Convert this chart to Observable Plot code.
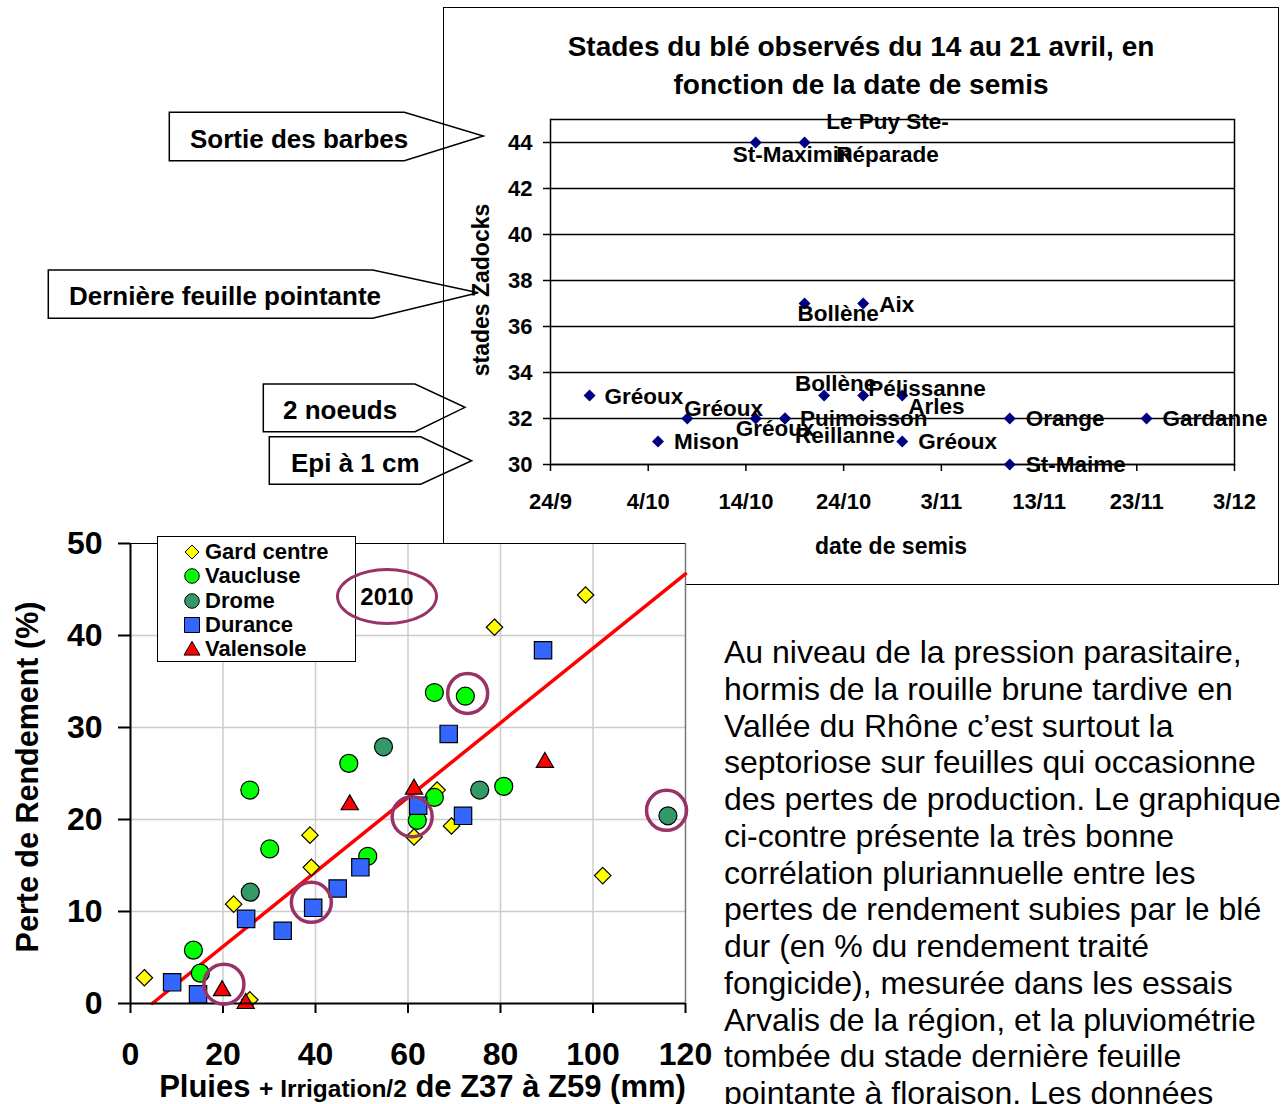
<!DOCTYPE html>
<html>
<head>
<meta charset="utf-8">
<script src="https://cdn.jsdelivr.net/npm/d3@7"></script>
<script src="https://cdn.jsdelivr.net/npm/@observablehq/plot@0.6"></script>
<style>
  html, body { margin:0; padding:0; width:1285px; height:1104px; overflow:hidden; background:#fff;
    font-family: Arial, "Liberation Sans", sans-serif; color:#000; }
  .abs { position:absolute; }
  #box { left:443px; top:7px; width:836px; height:578px; border:1.5px solid #000; box-sizing:border-box; }
  #title { left:443px; top:28px; width:836px; text-align:center; font-weight:bold; font-size:28px; line-height:38px; }
  .rot { white-space:nowrap; font-weight:bold; transform:translate(-50%,-50%) rotate(-90deg); }
  #para { left:724px; top:634px; font-size:32px; line-height:36.75px; white-space:nowrap; }
  #legend { left:157px; top:536px; width:199px; height:126px; border:1px solid #000; background:#fff; box-sizing:border-box; }
  .lrow { position:absolute; left:0; height:24px; font-weight:bold; font-size:22px; line-height:24px; white-space:nowrap; }
  .lrow svg { position:absolute; left:24px; top:2px; }
  .lrow span { position:absolute; left:47px; top:0; }
  #e2010 { left:336px; top:568px; width:102px; height:57px; border:3px solid #993366; border-radius:50%;
    box-sizing:border-box; text-align:center; font-weight:bold; font-size:24px; line-height:51px; }
</style>
</head>
<body>
<div id="box" class="abs"></div>
<div id="title" class="abs">Stades du blé observés du 14 au 21 avril, en<br>fonction de la date de semis</div>
<div id="top" class="abs" style="left:443px;top:7px"></div>
<div class="abs rot" style="left:481px;top:290px;font-size:23px;line-height:23px">stades Zadocks</div>
<div class="abs" style="left:691px;top:535px;width:400px;text-align:center;font-weight:bold;font-size:23px;line-height:23px">date de semis</div>

<svg class="abs" style="left:0;top:0" width="520" height="500" font-family="Arial, 'Liberation Sans', sans-serif" font-weight="bold" font-size="26">
  <polygon points="169.3,112.3 404.3,112.3 483.3,136 404.3,160.7 169.3,160.7" fill="none" stroke="#000" stroke-width="1.5"/>
  <text x="190" y="148">Sortie des barbes</text>
  <polygon points="48.3,270 372.7,270 478.3,292.7 372.7,318.3 48.3,318.3" fill="none" stroke="#000" stroke-width="1.5"/>
  <text x="69" y="305">Dernière feuille pointante</text>
  <polygon points="263.3,384 415,384 465,407.3 415,431.7 263.3,431.7" fill="none" stroke="#000" stroke-width="1.5"/>
  <text x="283" y="418.5">2 noeuds</text>
  <polygon points="269.3,436.7 420.7,436.7 471.7,460.7 420.7,484.3 269.3,484.3" fill="none" stroke="#000" stroke-width="1.5"/>
  <text x="291" y="471.5">Epi à 1 cm</text>
</svg>

<div id="scatter" class="abs" style="left:0;top:520px"></div>
<div class="abs rot" style="left:27px;top:777px;font-size:30.5px;line-height:30.5px">Perte de Rendement (%)</div>
<div class="abs" style="left:0;top:1070px;width:845px;text-align:center;font-weight:bold;font-size:31px;line-height:34px;white-space:nowrap">Pluies <span style="font-size:24.5px">+ Irrigation/2</span> de Z37 à Z59 (mm)</div>
<div id="legend" class="abs"></div>
<div id="e2010" class="abs">2010</div>

<div id="para" class="abs">Au niveau de la pression parasitaire,<br>hormis de la rouille brune tardive en<br>Vallée du Rhône c’est surtout la<br>septoriose sur feuilles qui occasionne<br>des pertes de production. Le graphique<br>ci-contre présente la très bonne<br>corrélation pluriannuelle entre les<br>pertes de rendement subies par le blé<br>dur (en % du rendement traité<br>fongicide), mesurée dans les essais<br>Arvalis de la région, et la pluviométrie<br>tombée du stade dernière feuille<br>pointante à floraison. Les données</div>

<script>
// ---------------- Top chart data ----------------
const sowingDates = ["2009-09-28","2009-10-05","2009-10-08","2009-10-15","2009-10-15","2009-10-18","2009-10-18",
  "2009-10-20","2009-10-20","2009-10-22","2009-10-26","2009-10-26","2009-10-30","2009-10-30","2009-11-10","2009-11-10","2009-11-24"];
const stages = [33,31,32,44,32,32,32,44,37,33,37,33,33,31,32,30,32];
const sites = ["Gréoux","Mison","Gréoux","St-Maximin","Gréoux","Puimoisson","Reillanne","Le Puy Ste-\nRéparade",
  "Bollène","Bollène","Aix","Pélissanne","Arles","Gréoux","Orange","St-Maime","Gardanne"];
const dateTicks = ["2009-09-24","2009-10-04","2009-10-14","2009-10-24","2009-11-03","2009-11-13","2009-11-23","2009-12-03"];
const stageTicks = [30,32,34,36,38,40,42,44];

// ---------------- Scatter data ----------------
const seriesNames = ["Gard centre","Vaucluse","Drome","Durance","Valensole"];
const gardX = [3.0,22.3,25.8,38.8,39.1,61.3,66.3,69.4,78.7,98.4,102.1];
const gardY = [2.8,10.8,0.4,18.3,14.8,18.1,23.2,19.3,40.9,44.4,13.9];
const vaucluseX = [13.6,15.1,25.8,30.1,47.2,51.3,62.0,65.7,65.7,72.4,80.7];
const vaucluseY = [5.8,3.3,23.2,16.8,26.1,16.0,19.9,22.4,33.8,33.4,23.6];
const dromeX = [25.9,54.7,75.5,116.2];
const dromeY = [12.1,27.9,23.2,20.4];
const duranceX = [9.0,14.6,25.0,32.9,39.5,44.8,49.7,62.2,68.8,71.9,89.2];
const duranceY = [2.3,1.0,9.2,7.9,10.4,12.5,14.8,21.5,29.3,20.4,38.4];
const valensoleX = [19.8,24.9,47.4,61.3,89.6];
const valensoleY = [1.4,0.0,21.6,23.3,26.2];
const year2010X = [20.2,39.1,60.9,72.9,115.9];
const year2010Y = [2.1,11.0,20.3,33.7,21.0];
const trendX = [4.7,120];
const trendY = [0,46.7];
const xTicks = [0,20,40,60,80,100,120];
const yTicks = [0,10,20,30,40,50];

// ---------------- Styles / placement (not data) ----------------
const FONT = 'Arial, "Liberation Sans", sans-serif';
const labelPlacement = [
  [15,-2,"start"],[16,-3,"start"],[-3,-13,"start"],[-23,9,"start"],[-20,7,"start"],[15,-3,"start"],[10,14,"start"],
  [83,-8,"middle"],[-7,7,"start"],[-29,-15,"start"],[16,-2,"start"],[5,-10,"start"],[6,8,"start"],[16,-3,"start"],
  [16,-3,"start"],[16,-3,"start"],[16,-3,"start"]];
const seriesStyle = [
  {symbol:"diamond2", fill:"#FFFF00", r:7.4, d3s:d3.symbolDiamond2, size:125},
  {symbol:"circle",   fill:"#00FF00", r:9,   d3s:d3.symbolCircle,   size:167},
  {symbol:"circle",   fill:"#339966", r:9,   d3s:d3.symbolCircle,   size:167},
  {symbol:"square",   fill:"#3366FF", r:9.8, d3s:d3.symbolSquare,   size:225},
  {symbol:"triangle", fill:"#FF0000", r:6.4, d3s:d3.symbolTriangle, size:110}
];
const seriesX = [gardX, vaucluseX, dromeX, duranceX, valensoleX];
const seriesY = [gardY, vaucluseY, dromeY, duranceY, valensoleY];

// ---------------- Top chart ----------------
const idx = d3.range(sites.length);
const fmt = d => `${d.getUTCDate()}/${d.getUTCMonth()+1}`;
const topPlot = Plot.plot({
  width: 836, height: 578,
  marginLeft: 107, marginRight: 45, marginTop: 112, marginBottom: 121,
  style: {fontFamily: FONT, fontWeight: "bold", fontSize: "22px", background: "transparent", overflow: "visible", color: "#000"},
  x: {type: "utc", domain: [new Date(dateTicks[0]), new Date(dateTicks[dateTicks.length-1])]},
  y: {domain: [30, 45]},
  marks: [
    Plot.ruleY(stageTicks, {stroke: "#000", strokeWidth: 1.5}),
    Plot.frame({stroke: "#000", strokeWidth: 1.5}),
    Plot.axisY({ticks: stageTicks, tickSize: 7, tickPadding: 11, fontSize: 22, fontWeight: "bold", label: null, strokeWidth: 1.5}),
    Plot.axisX({ticks: dateTicks.map(d => new Date(d)), tickFormat: fmt, tickSize: 7, tickPadding: 22, fontSize: 22, fontWeight: "bold", label: null, strokeWidth: 1.5}),
    Plot.dot(idx, {x: i => new Date(sowingDates[i]), y: i => stages[i], symbol: "diamond2", r: 5.4, fill: "#000080", stroke: "none"}),
    ...idx.map(i => Plot.text([i], {
      x: j => new Date(sowingDates[j]), y: j => stages[j], text: j => sites[j],
      dx: labelPlacement[i][0], dy: labelPlacement[i][1], textAnchor: labelPlacement[i][2],
      fontSize: 22.5, fontWeight: "bold", lineHeight: 1.47, fill: "#000"
    }))
  ]
});
document.getElementById("top").appendChild(topPlot);

// ---------------- Scatter ----------------
const toPts = (xs, ys) => xs.map((v, i) => ({x: v, y: ys[i]}));
const scatter = Plot.plot({
  width: 720, height: 584,
  marginLeft: 130, marginRight: 35, marginTop: 23, marginBottom: 101,
  style: {fontFamily: FONT, fontWeight: "bold", fontSize: "32px", background: "transparent", overflow: "visible", color: "#000"},
  x: {domain: [0, 120]},
  y: {domain: [0, 50]},
  marks: [
    Plot.frame({fill: "white", stroke: "none"}),
    Plot.ruleX(xTicks.slice(1, -1), {stroke: "#cccccc", strokeWidth: 1.5}),
    Plot.ruleY(yTicks.slice(1, -1), {stroke: "#cccccc", strokeWidth: 1.5}),
    Plot.ruleX([120], {stroke: "#777", strokeWidth: 1.5}),
    Plot.ruleY([50], {stroke: "#000", strokeWidth: 1}),
    Plot.axisX({ticks: xTicks, tickSize: 10, tickPadding: 29, fontSize: 32, fontWeight: "bold", label: null, strokeWidth: 2}),
    Plot.axisY({ticks: yTicks, tickSize: 12, tickPadding: 16, fontSize: 32, fontWeight: "bold", label: null, strokeWidth: 2}),
    Plot.line(toPts(trendX, trendY), {x: "x", y: "y", stroke: "#FF0000", strokeWidth: 3.5}),
    ...seriesStyle.map((s, k) => Plot.dot(toPts(seriesX[k], seriesY[k]), {
      x: "x", y: "y", symbol: s.symbol, r: s.r, fill: s.fill, stroke: "#000", strokeWidth: 1.2
    })),
    Plot.ruleX([0], {stroke: "#000", strokeWidth: 2}),
    Plot.ruleY([0], {stroke: "#000", strokeWidth: 2}),
    Plot.dot(toPts(year2010X, year2010Y), {x: "x", y: "y", r: 20, fill: "none", stroke: "#993366", strokeWidth: 3.5})
  ]
});
document.getElementById("scatter").appendChild(scatter);

// ---------------- Legend ----------------
const legend = document.getElementById("legend");
seriesNames.forEach((name, k) => {
  const s = seriesStyle[k];
  const row = document.createElement("div");
  row.className = "lrow";
  row.style.top = (3.2 + k * 24.2) + "px";
  const path = d3.symbol().type(s.d3s).size(s.size)();
  const dy = s.d3s === d3.symbolTriangle ? 11.5 : 10;
  row.innerHTML = `<svg width="20" height="20" viewBox="0 0 20 20"><path d="${path}" transform="translate(10,${dy})" fill="${s.fill}" stroke="#000" stroke-width="1"/></svg><span>${name}</span>`;
  legend.appendChild(row);
});
</script>
</body>
</html>
